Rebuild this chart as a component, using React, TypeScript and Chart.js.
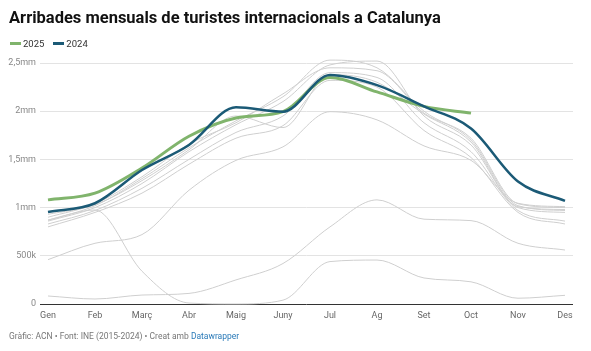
import React, { useEffect, useRef } from "react";
import { Chart, registerables } from "chart.js";

Chart.register(...registerables);

const months = ["Gen", "Feb", "Març", "Abr", "Maig", "Juny", "Jul", "Ag", "Set", "Oct", "Nov", "Des"];
const yTicks = [0, 0.5, 1, 1.5, 2, 2.5];

// values in millions of tourists
const y2025 = [1.08, 1.15, 1.41, 1.74, 1.93, 1.995, 2.35, 2.2, 2.05, 1.98];
const y2024 = [0.955, 1.045, 1.39, 1.65, 2.04, 1.995, 2.375, 2.27, 2.05, 1.82, 1.27, 1.07];
const y2015 = [0.8, 0.95, 1.15, 1.45, 1.72, 1.85, 2.32, 2.25, 1.8, 1.52, 0.95, 0.83];
const y2016 = [0.83, 0.97, 1.2, 1.5, 1.78, 1.95, 2.4, 2.35, 1.88, 1.58, 0.97, 0.86];
const y2017 = [0.86, 1.0, 1.25, 1.58, 1.86, 2.1, 2.48, 2.52, 1.95, 1.65, 1.0, 0.95];
const y2018 = [0.87, 1.02, 1.3, 1.62, 1.9, 2.15, 2.53, 2.45, 2.0, 1.7, 1.02, 0.97];
const y2019 = [0.9, 1.04, 1.32, 1.66, 1.88, 2.18, 2.45, 2.42, 1.98, 1.72, 1.04, 1.0];
const y2023 = [0.93, 1.03, 1.28, 1.6, 1.95, 1.83, 2.38, 2.3, 1.97, 1.68, 1.01, 0.98];
const y2020 = [0.87, 0.975, 0.34, 0.01, 0.0, 0.04, 0.44, 0.456, 0.27, 0.23, 0.06, 0.09];
const y2021 = [0.083, 0.052, 0.093, 0.11, 0.25, 0.42, 0.8, 1.08, 0.88, 0.865, 0.63, 0.56];
const y2022 = [0.46, 0.63, 0.72, 1.18, 1.49, 1.63, 1.995, 1.91, 1.64, 1.49, 1.045, 1.01];

const grayYears = [y2015, y2016, y2017, y2018, y2019, y2020, y2021, y2022, y2023];

const toPts = (arr: number[]) => arr.map((v, i) => ({ x: i, y: v }));

const fmtY = (v: number) => {
  if (v === 0) return "0";
  if (v < 1) return `${Math.round(v * 1000)}k`;
  return `${String(v).replace(".", ",")}mm`;
};

export default function App() {
  const ref = useRef<HTMLCanvasElement | null>(null);

  useEffect(() => {
    if (!ref.current) return;
    const grayDs = grayYears.map((arr) => ({
      data: toPts(arr),
      borderColor: "#cfcfcf",
      borderWidth: 1,
      pointRadius: 0,
      cubicInterpolationMode: "monotone" as const,
      clip: false as any,
      order: 3,
    }));
    const chart = new Chart(ref.current, {
      type: "line",
      data: {
        datasets: [
          ...grayDs,
          {
            data: toPts(y2025),
            borderColor: "#80b46c",
            borderWidth: 3,
            pointRadius: 0,
            cubicInterpolationMode: "monotone",
            clip: false as any,
            order: 2,
          },
          {
            data: toPts(y2024),
            borderColor: "#1b5a76",
            borderWidth: 2.5,
            pointRadius: 0,
            cubicInterpolationMode: "monotone",
            clip: false as any,
            order: 1,
          },
        ],
      },
      options: {
        animation: false,
        responsive: false,
        devicePixelRatio: 1,
        layout: { padding: { top: 63, right: 18, left: 0, bottom: 0 } },
        plugins: { legend: { display: false }, tooltip: { enabled: false } },
        scales: {
          x: {
            type: "linear",
            min: -0.17,
            max: 11.17,
            afterBuildTicks: (scale: any) => {
              scale.ticks = months.map((_, i) => ({ value: i }));
            },
            afterFit: (scale: any) => {
              scale.height = 47;
            },
            grid: { display: false, drawTicks: false },
            border: { display: false },
            ticks: {
              autoSkip: false,
              maxRotation: 0,
              padding: 6,
              color: "#666",
              font: { family: "Roboto", size: 9 },
              callback: (v: any) => months[Number(v)] ?? "",
            },
          },
          y: {
            min: 0,
            max: 2.5,
            afterBuildTicks: (scale: any) => {
              scale.ticks = yTicks.map((v) => ({ value: v }));
            },
            afterFit: (scale: any) => {
              scale.width = 40;
            },
            border: { display: false },
            grid: {
              drawTicks: false,
              color: (ctx: any) => (ctx.tick && ctx.tick.value === 0 ? "#333" : "#e3e3e3"),
              lineWidth: 1,
            },
            ticks: {
              padding: 4,
              color: "#888",
              font: { family: "Roboto", size: 9 },
              callback: (v: any) => fmtY(Number(v)),
            },
          },
        },
      },
    });
    return () => chart.destroy();
  }, []);

  return (
    <div style={{ position: "absolute", left: 0, top: 0, width: 591, height: 351, background: "#fff", fontFamily: "Roboto, sans-serif" }}>
      <canvas ref={ref} width={591} height={351} style={{ position: "absolute", left: 0, top: 0, width: 591, height: 351 }} />
      <div style={{ position: "absolute", left: 9, top: 8, fontSize: 16.5, fontWeight: 700, color: "#111", whiteSpace: "nowrap" }}>
        Arribades mensuals de turistes internacionals a Catalunya
      </div>
      <div style={{ position: "absolute", left: 10, top: 38, fontSize: 9.5, color: "#333", display: "flex", alignItems: "center", whiteSpace: "nowrap" }}>
        <span style={{ display: "inline-block", width: 11, height: 3, background: "#80b46c", marginRight: 2 }} />
        <span style={{ marginRight: 9 }}>2025</span>
        <span style={{ display: "inline-block", width: 11, height: 3, background: "#1b5a76", marginRight: 2 }} />
        <span>2024</span>
      </div>
      <div style={{ position: "absolute", left: 9, top: 331, fontSize: 8.5, color: "#777", whiteSpace: "nowrap" }}>
        Gràfic: ACN • Font: INE (2015-2024) • Creat amb <span style={{ color: "#2a7ab8" }}>Datawrapper</span>
      </div>
    </div>
  );
}
